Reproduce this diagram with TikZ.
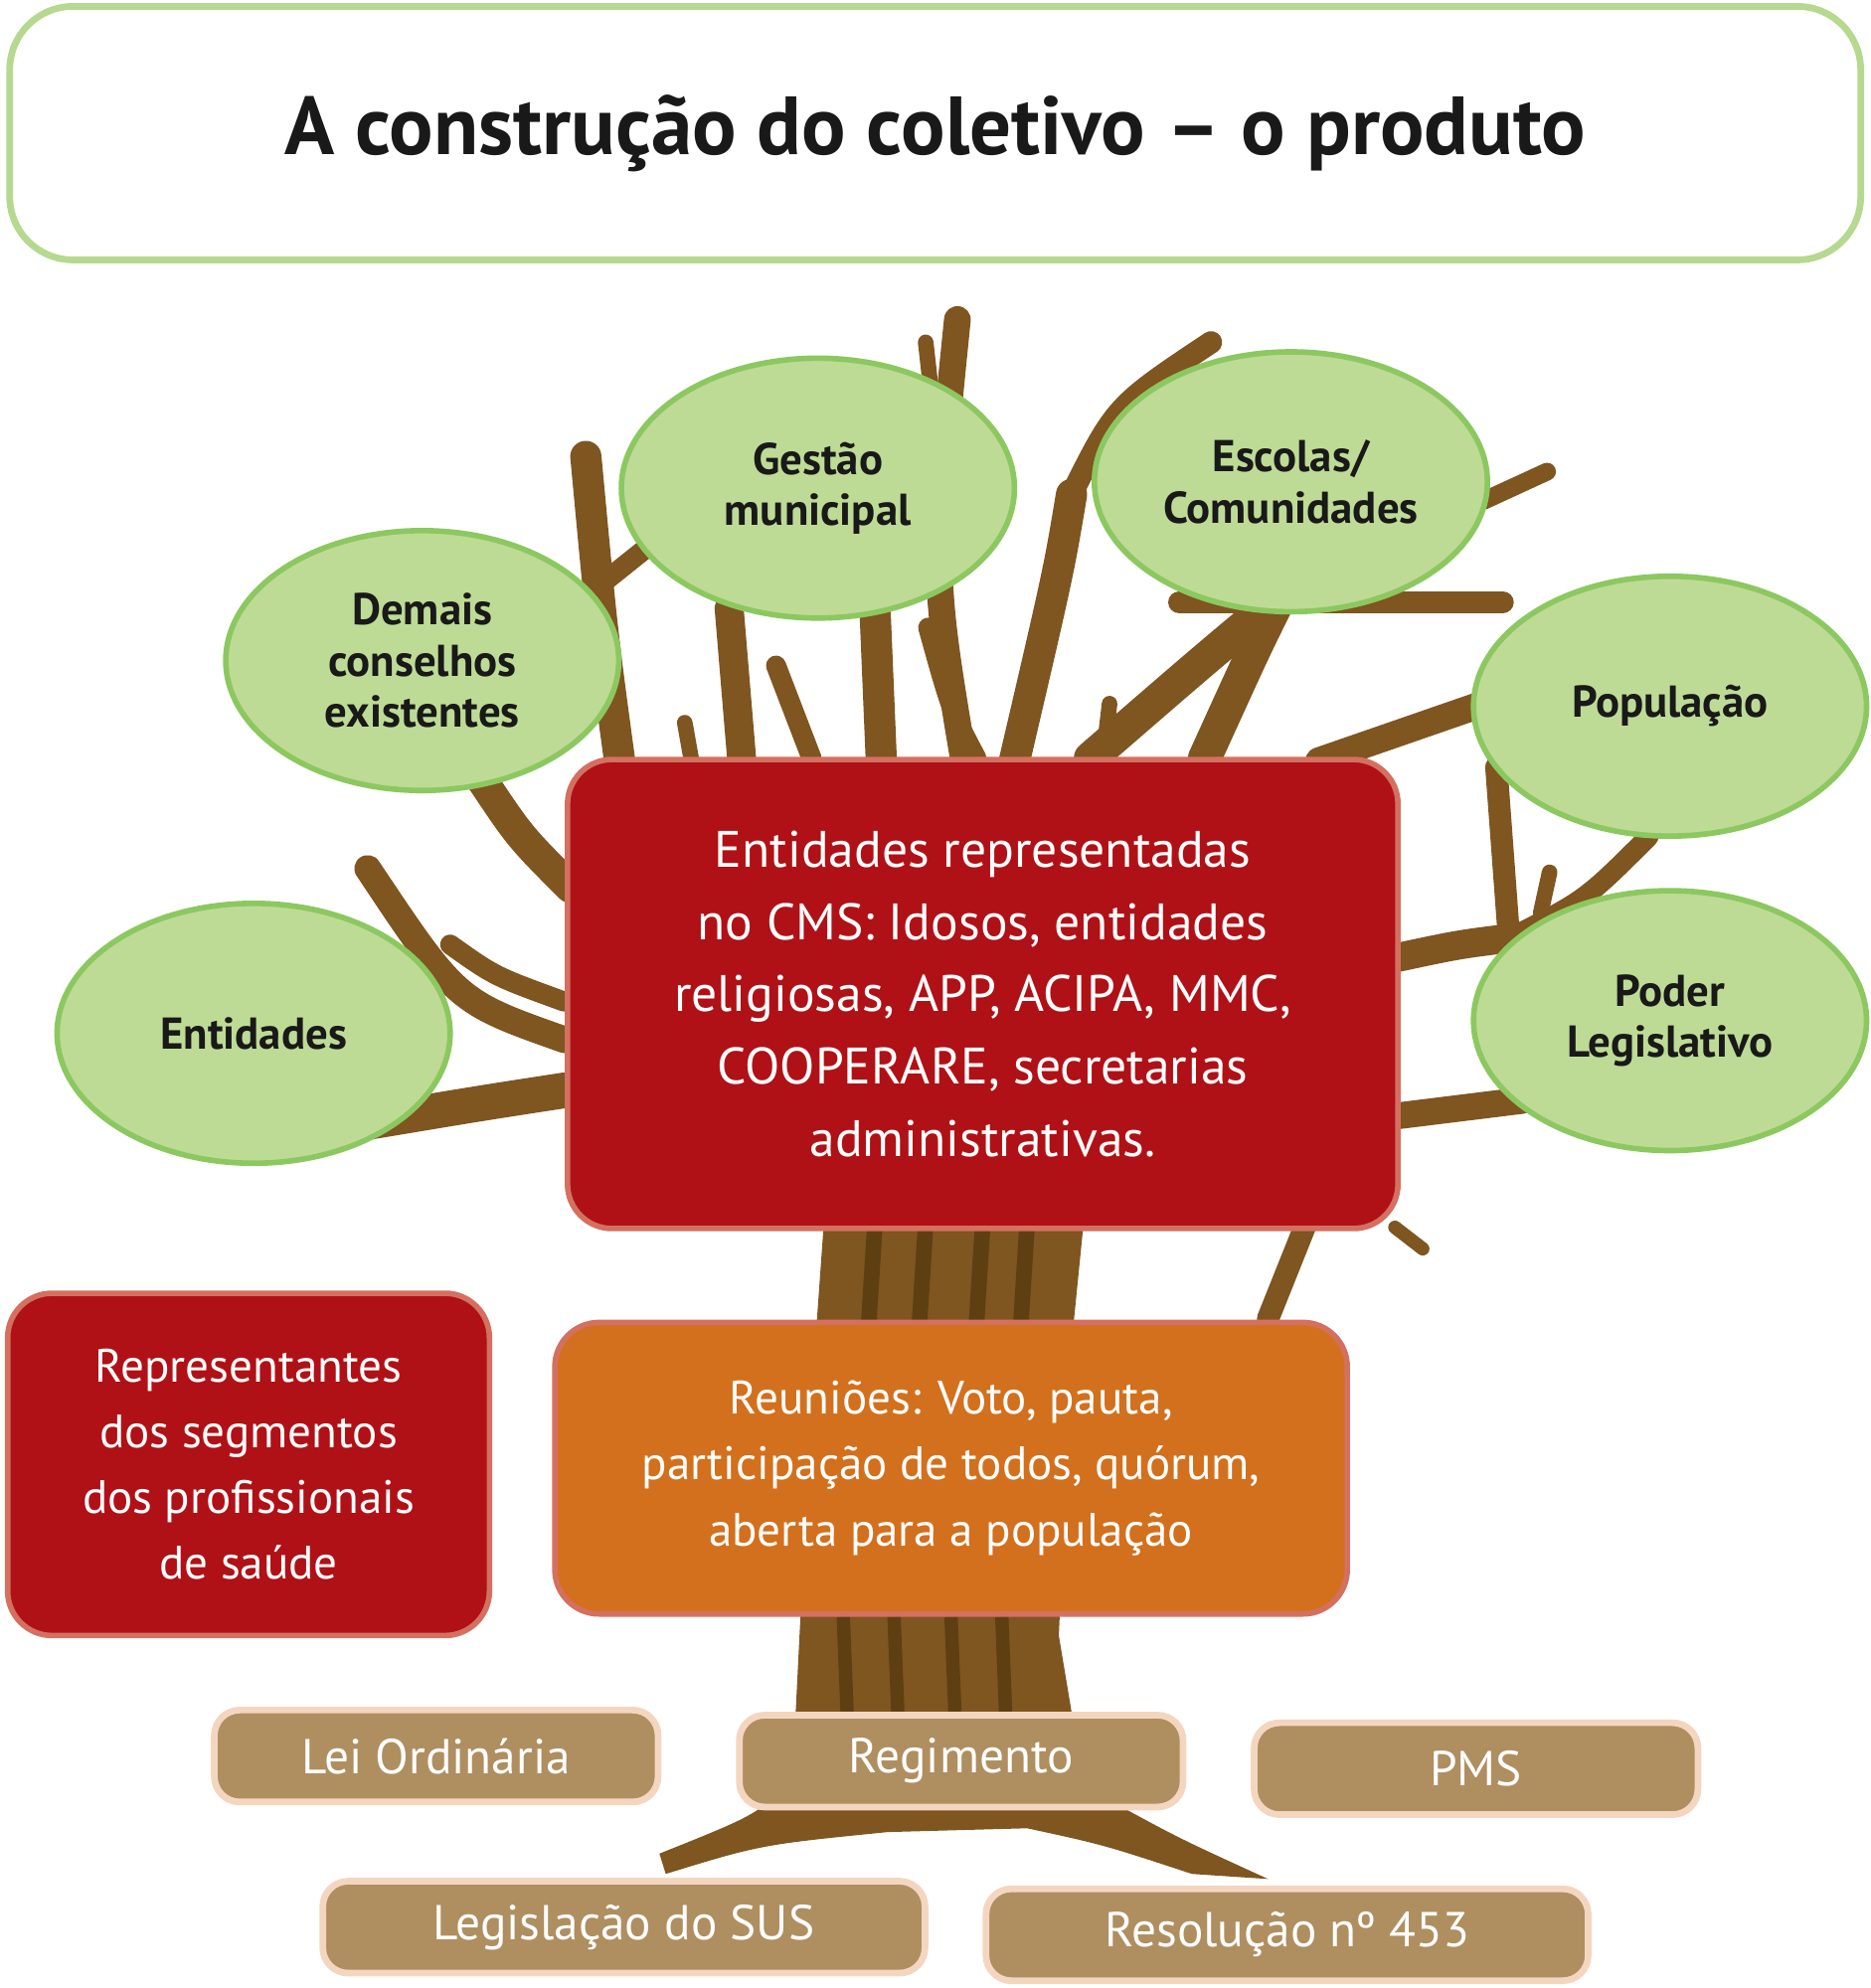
\documentclass[tikz,border=0pt]{standalone}
\usepackage{fontspec}
\setmainfont{PT Sans}
\usetikzlibrary{shapes.geometric}
\definecolor{bark}{HTML}{7F5520}
\definecolor{barkd}{HTML}{5E3F12}
\definecolor{leaf}{HTML}{BEDB96}
\definecolor{leafb}{HTML}{8CC860}
\definecolor{redb}{HTML}{B01116}
\definecolor{redl}{HTML}{D47060}
\definecolor{orng}{HTML}{D3701D}
\definecolor{tan}{HTML}{AF8E60}
\definecolor{tanb}{HTML}{F4D6C0}
\definecolor{ttl}{HTML}{B5D98E}
\tikzset{
 br/.style={draw=bark,line width=#1,line cap=round,line join=round},
 ell/.style={ellipse,fill=leaf,draw=leafb,line width=2.5pt,minimum width=6.2cm,minimum height=4.1cm,align=center,font=\fontsize{20}{23}\selectfont\bfseries,text=black!90},
 redbox/.style={rectangle,rounded corners=0.7cm,fill=redb,draw=redl,line width=2.5pt,align=center,text=white,inner sep=0pt},
 tanbox/.style={rectangle,rounded corners=0.4cm,fill=tan,draw=tanb,line width=3pt,text=white,font=\fontsize{22}{26}\selectfont,minimum width=7cm,minimum height=1.45cm},
}
\begin{document}
\begin{tikzpicture}[x=0.02cm,y=-0.02cm]
\useasboundingbox (0,0) rectangle (1475,1568);
% branches
\draw[br=16pt] (445,860) .. controls (380,870) .. (290,885);
\draw[br=12pt] (445,820) .. controls (360,790) .. (290,685);
\draw[br=9pt] (445,790) .. controls (390,770) .. (355,745);
\draw[br=14pt] (450,700) .. controls (410,660) .. (380,615);
\draw[br=14pt] (490,610) .. controls (475,500) .. (462,360);
\draw[br=9pt] (475,460) -- (525,420);
\draw[br=7pt] (545,598) -- (540,570);
\draw[br=13pt] (585,600) -- (575,480);
\draw[br=9pt] (640,598) -- (612,525);
\draw[br=14pt] (695,600) -- (690,480);
\draw[br=12pt] (760,600) .. controls (735,450) .. (755,252);
\draw[br=7pt] (740,360) -- (730,270);
\draw[br=9pt] (770,598) .. controls (750,560) .. (732,495);
\draw[br=14pt] (800,600) .. controls (835,450) .. (845,390);
\draw[br=10pt] (845,390) .. controls (880,320) .. (955,270);
\draw[br=7pt] (870,598) -- (875,555);
\draw[br=15pt] (860,598) .. controls (950,520) .. (1010,470);
\draw[br=15pt] (950,598) .. controls (990,510) .. (1010,470);
\draw[br=10pt] (930,475) -- (1185,475);
\draw[br=8pt] (1170,395) -- (1220,372);
\draw[br=12pt] (1040,600) -- (1170,555);
\draw[br=13pt] (1103,755) .. controls (1150,745) .. (1190,740);
\draw[br=10pt] (1190,740) -- (1180,605);
\draw[br=9pt] (1190,740) .. controls (1250,710) .. (1300,660);
\draw[br=7pt] (1215,720) -- (1222,688);
\draw[br=12pt] (1103,880) -- (1200,868);
\draw[br=10pt] (1000,1040) -- (1030,965);
\draw[br=6pt] (1100,968) -- (1122,985);
% trunk
\fill[bark] (650,960) -- (855,960) -- (845,1060) -- (835,1290) -- (845,1350) -- (875,1420) .. controls (930,1450) .. (1000,1482) -- (940,1478) .. controls (870,1455) .. (810,1442) -- (700,1445) .. controls (600,1455) .. (525,1478) -- (520,1462) .. controls (600,1430) .. (625,1400) -- (630,1300) -- (640,1100) -- cycle;
\foreach \x in {690,730,775,810}{\draw[barkd,line width=7pt] (\x,965) -- (\x-5,1045);}
\foreach \x in {665,705,750,790}{\draw[barkd,line width=6pt] (\x,1275) -- (\x+3,1350);}
% title
\node[draw=ttl,line width=3pt,rounded corners=1cm,minimum width=29.2cm,minimum height=4cm,font=\fontsize{37}{42}\selectfont\bfseries,text=black!90] (title) at (737.5,105) {A construção do coletivo – o produto};
% ellipses
\node[ell] (demais) at (333,521) {Demais\\conselhos\\existentes};
\node[ell] (gestao) at (645,385) {Gestão\\municipal};
\node[ell] (escolas) at (1018,380) {Escolas/\\Comunidades};
\node[ell] (pop) at (1317,557) {População};
\node[ell] (poder) at (1317,805) {Poder\\Legislativo};
\node[ell] (ent) at (200,815) {Entidades};
% boxes
\node[redbox,minimum width=13.1cm,minimum height=7.4cm,font=\fontsize{23}{32.5}\selectfont] (cms) at (775,784) {Entidades representadas\\no CMS: Idosos, entidades\\religiosas, APP, ACIPA, MMC,\\COOPERARE, secretarias\\administrativas.};
\node[redbox,minimum width=7.6cm,minimum height=5.4cm,font=\fontsize{21}{29.5}\selectfont] (rep) at (196,1155) {Representantes\\dos segmentos\\dos profissionais\\de saúde};
\node[redbox,fill=orng,minimum width=12.5cm,minimum height=4.6cm,font=\fontsize{21}{29.5}\selectfont] (reun) at (750,1158) {Reuniões: Voto, pauta,\\participação de todos, quórum,\\aberta para a população};
\node[tanbox] (lei) at (344,1385) {Lei Ordinária};
\node[tanbox] (reg) at (758,1389) {Regimento};
\node[tanbox] (pms) at (1164,1395) {PMS};
\node[tanbox,minimum width=9.5cm] (sus) at (492,1520) {Legislação do SUS};
\node[tanbox,minimum width=9.5cm] (res) at (1015,1526) {Resolução nº 453};
\end{tikzpicture}
\end{document}
